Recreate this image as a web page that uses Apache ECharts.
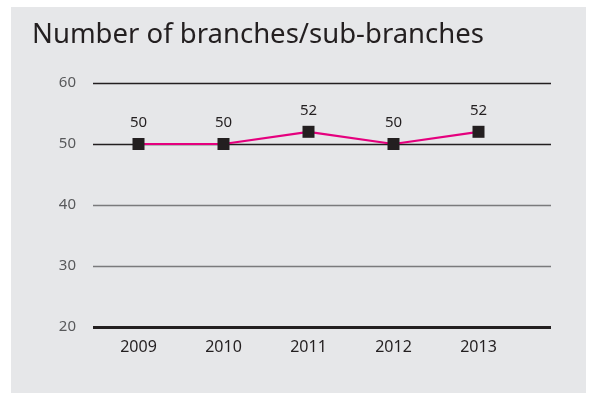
<!DOCTYPE html>
<html>
<head>
<meta charset="utf-8">
<script src="https://cdn.jsdelivr.net/npm/echarts@6/dist/echarts.min.js"></script>
<style>
  html, body { margin: 0; padding: 0; background: #ffffff; }
  #chart { width: 591px; height: 393px; }
</style>
</head>
<body>
<div id="chart"></div>
<script>
// Branch counts per year
const years = ['2009', '2010', '2011', '2012', '2013'];
const branches = [50, 50, 52, 50, 52];
const yTicks = [20, 30, 40, 50, 60];

const chart = echarts.init(document.getElementById('chart'), null, { renderer: 'canvas' });

const option = {
  backgroundColor: '#ffffff',
  animation: false,
  graphic: [
    { type: 'rect', shape: { x: 11, y: 7, width: 575, height: 386 }, style: { fill: '#e6e7e9' }, z: -10 },
    {
      type: 'text', left: 32, top: 21,
      style: { text: 'Number of branches/sub-branches', font: '27.5px "Noto Sans"', fill: '#231f20' }
    }
  ],
  grid: [
    // frame for horizontal rules
    { left: 93, right: 40, top: 83, height: 244 },
    // frame for the series
    { left: 96, width: 425, top: 83, height: 244 }
  ],
  xAxis: [
    { type: 'category', gridIndex: 0, data: years, show: false },
    {
      type: 'category', gridIndex: 1, data: years, boundaryGap: true,
      axisLine: { show: false }, axisTick: { show: false },
      axisLabel: { color: '#231f20', fontSize: 16, fontFamily: 'Noto Sans', margin: 12 }
    }
  ],
  yAxis: [
    {
      type: 'value', gridIndex: 0, min: yTicks[0], max: yTicks[yTicks.length - 1], interval: 10,
      axisLine: { show: false }, axisTick: { show: false },
      axisLabel: { color: '#58595b', fontSize: 15, fontFamily: 'Noto Sans', margin: 17 },
      splitLine: { lineStyle: { color: ['#231f20', '#7a7a7c', '#7a7a7c', '#231f20', '#231f20'], width: 1.3 } }
    },
    {
      type: 'value', gridIndex: 1, min: yTicks[0], max: yTicks[yTicks.length - 1], interval: 10,
      show: false
    }
  ],
  series: [
    {
      // heavy baseline at the axis minimum
      type: 'line', xAxisIndex: 0, yAxisIndex: 0, data: [], silent: true,
      markLine: {
        symbol: 'none', silent: true, label: { show: false },
        lineStyle: { color: '#231f20', width: 3, type: 'solid' },
        data: [{ yAxis: yTicks[0] }]
      }
    },
    {
      type: 'line', xAxisIndex: 1, yAxisIndex: 1, data: branches,
      symbol: 'rect', symbolSize: 12,
      itemStyle: { color: '#231f20' },
      lineStyle: { color: '#e5007e', width: 2.2 },
      label: {
        show: true, position: 'top', distance: 8,
        color: '#231f20', fontSize: 15, fontFamily: 'Noto Sans'
      },
      z: 5
    }
  ]
};

chart.setOption(option);
</script>
</body>
</html>
